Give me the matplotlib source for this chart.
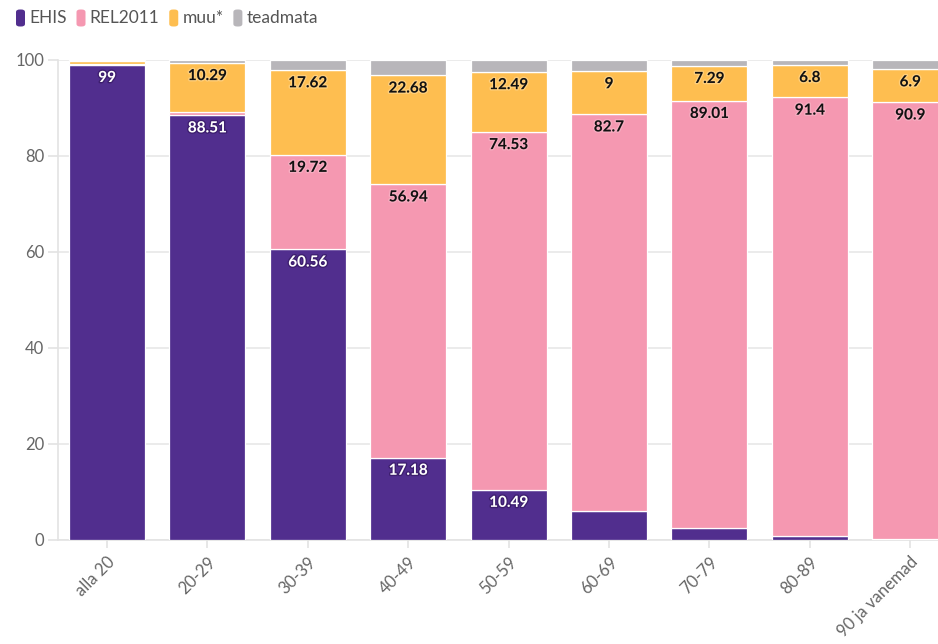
import matplotlib
matplotlib.use("Agg")
import matplotlib.pyplot as plt
import matplotlib.patheffects as pe
from matplotlib.patches import FancyBboxPatch
import numpy as np

plt.rcParams['font.family'] = ['Lato', 'DejaVu Sans']

categories = ["alla 20", "20-29", "30-39", "40-49", "50-59", "60-69", "70-79", "80-89", "90 ja vanemad"]
series_names = ["EHIS", "REL2011", "muu*", "teadmata"]
ehis     = [99.0, 88.51, 60.56, 17.18, 10.49, 6.0, 2.5, 0.8, 0.3]
rel2011  = [0.2, 0.6, 19.72, 56.94, 74.53, 82.7, 89.01, 91.4, 90.9]
muu      = [0.6, 10.29, 17.62, 22.68, 12.49, 9.0, 7.29, 6.8, 6.9]
teadmata = [0.2, 0.6, 2.1, 3.2, 2.49, 2.3, 1.2, 1.0, 1.9]
colors = ["#512E8E", "#F598B1", "#FEBE50", "#B8B6BA"]
label_colors = ["white", "#111111", "#111111", "#111111"]
halo_colors = ["#2a1050", "#f8c0cf", "#ffe0a8", "#dddddd"]

W, H = 938, 644
fig = plt.figure(figsize=(W / 100, H / 100), dpi=100)
ax_left, ax_right, ax_top, ax_bot = 58, 960, 60, 540
ax = fig.add_axes([ax_left / W, 1 - ax_bot / H, (ax_right - ax_left) / W, (ax_bot - ax_top) / H])

x = np.arange(len(categories))
step = 100.4
ax.set_xlim(-(107 - ax_left) / step, (ax_right - 107) / step - 0.0)
ax.set_ylim(0, 100)

data = [ehis, rel2011, muu, teadmata]
bottom = np.zeros(len(categories))
for vals, col, lc, hc in zip(data, colors, label_colors, halo_colors):
    vals = np.array(vals)
    ax.bar(x, vals, bottom=bottom, width=0.757, color=col, edgecolor="white",
           linewidth=0.9, zorder=3)
    for xi, b, v in zip(x, bottom, vals):
        if v >= 6.5:
            s = f"{v:g}"
            ax.annotate(s, (xi, b + v), xytext=(0, -9.5), textcoords="offset points",
                        ha="center", va="center", fontsize=11, fontweight="bold",
                        color=lc, zorder=5,
                        path_effects=[pe.withStroke(linewidth=2, foreground=hc, alpha=0.5)])
    bottom = bottom + vals

ax.set_yticks([0, 20, 40, 60, 80, 100])
ax.grid(axis="y", color="#e8e8e8", linewidth=1.2, zorder=0)
ax.set_axisbelow(True)
ax.set_xticks(x)
ax.set_xticklabels(categories, rotation=45, ha="right", rotation_mode="anchor")
for sp in ["top", "right"]:
    ax.spines[sp].set_visible(False)
for sp in ["left", "bottom"]:
    ax.spines[sp].set_color("#e3e3e3")
    ax.spines[sp].set_linewidth(1.2)
ax.tick_params(axis="y", colors="#e3e3e3", labelcolor="#666666", labelsize=12, length=7, width=1.2, pad=3)
ax.tick_params(axis="x", colors="#e3e3e3", labelcolor="#666666", labelsize=12, length=6, width=1.2, pad=4)

# legend
lx = 16
ly = 18
for name, col in zip(series_names, colors):
    fig.patches.append(FancyBboxPatch(((lx) / W, (H - ly - 8.5) / H), 9 / W, 17 / H,
                                      boxstyle="round,pad=0,rounding_size=0.004",
                                      transform=fig.transFigure, facecolor=col,
                                      edgecolor="none", figure=fig))
    t = fig.text((lx + 13) / W, (H - ly) / H, name, ha="left", va="center",
                 fontsize=12.5, color="#555555")
    fig.canvas.draw()
    bb = t.get_window_extent()
    lx = bb.x1 + 10

fig.savefig("out.png", dpi=100)
